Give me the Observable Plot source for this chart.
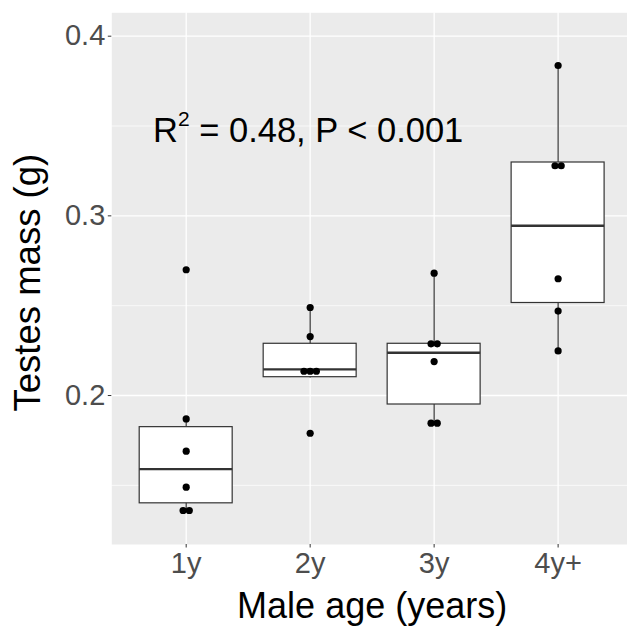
<!DOCTYPE html>
<html>
<head>
<meta charset="utf-8">
<script src="https://cdn.jsdelivr.net/npm/d3@7"></script>
<script src="https://cdn.jsdelivr.net/npm/@observablehq/plot@0.6"></script>
<style>
  html, body { margin: 0; padding: 0; background: #ffffff; }
  svg { display: block; }
</style>
</head>
<body>
<div id="chart"></div>
<script>
// ---- data ----
const ageLabels = ["1y", "2y", "3y", "4y+"];
// dot positions (binned dotplot values), per age class
const dots1y = [0.2700, 0.1870, 0.1690, 0.1490, 0.1360, 0.1360];
const dots2y = [0.2490, 0.2328, 0.2135, 0.2135, 0.2135, 0.1790];
const dots3y = [0.2681, 0.2288, 0.2288, 0.2189, 0.1846, 0.1846];
const dots4y = [0.3837, 0.3279, 0.3279, 0.2650, 0.2470, 0.2248];
// boxplot statistics, per age class
const whiskerLow  = [0.1360, 0.2098, 0.1846, 0.2248];
const lowerHinge  = [0.1400, 0.2102, 0.1950, 0.2515];
const medians     = [0.1590, 0.2145, 0.2238, 0.2945];
const upperHinge  = [0.1824, 0.2288, 0.2288, 0.3297];
const whiskerHigh = [0.1870, 0.2490, 0.2681, 0.3837];
// axes
const yTicks = [0.2, 0.3, 0.4];
const yMinor = [0.15, 0.25, 0.35];
const xTitle = "Male age (years)";
const yTitle = "Testes mass (g)";
const annotText = "R2 = 0.48, P < 0.001";
const annotX = 2;
const annotY = 0.35;

// ---- derived tables ----
const dotGroups = [dots1y, dots2y, dots3y, dots4y];
const points = [];
dotGroups.forEach((vals, i) => {
  const counts = d3.rollup(vals, v => v.length, v => v);
  const seen = new Map();
  vals.forEach(v => {
    const n = counts.get(v);
    const k = seen.get(v) || 0;
    seen.set(v, k + 1);
    points.push({age: ageLabels[i], pos: i + 1, slot: k - (n - 1) / 2, mass: v});
  });
});
const boxes = ageLabels.map((a, i) => ({
  age: a, pos: i + 1,
  lo: whiskerLow[i], q1: lowerHinge[i], med: medians[i], q3: upperHinge[i], hi: whiskerHigh[i]
}));
const halfBox = 0.375;   // ggplot box width 0.75
const dotStep = 0.05;    // stacking step for coincident dots

const font = "'Liberation Sans', Arial, Helvetica, sans-serif";
const grey = "#333333";

const svg = Plot.plot({
  width: 627,
  height: 626,
  marginLeft: 111.3,
  marginRight: 0,
  marginTop: 12.3,
  marginBottom: 82,
  style: {fontFamily: font, background: "#ffffff"},
  x: {type: "linear", domain: [0.4, 4.6], range: [111.3, 632]},
  y: {type: "linear", domain: [0.11708, 0.41302], range: [544, 12.3]},
  marks: [
    Plot.frame({fill: "#EBEBEB", stroke: null}),
    Plot.ruleY(yMinor, {stroke: "#ffffff", strokeWidth: 0.7}),
    Plot.ruleY(yTicks, {stroke: "#ffffff", strokeWidth: 1.3}),
    Plot.ruleX([1, 2, 3, 4], {stroke: "#ffffff", strokeWidth: 1.3}),
    Plot.ruleX(boxes, {x: "pos", y1: "lo", y2: "hi", stroke: grey, strokeWidth: 1.2}),
    Plot.rect(boxes, {x1: d => d.pos - halfBox, x2: d => d.pos + halfBox, y1: "q1", y2: "q3",
      fill: "#ffffff", stroke: grey, strokeWidth: 1.2}),
    Plot.ruleY(boxes, {y: "med", x1: d => d.pos - halfBox, x2: d => d.pos + halfBox,
      stroke: grey, strokeWidth: 2.3}),
    Plot.dot(points, {x: d => d.pos + d.slot * dotStep, y: "mass", r: 3.6, fill: "#000000", stroke: null}),
    Plot.text([annotText], {x: () => annotX, y: () => annotY, text: d => d,
      fontSize: 34.5, fill: "#000000", textAnchor: "middle", lineAnchor: "bottom", dy: 15.5, dx: -2}),
    Plot.axisY({ticks: yTicks, tickFormat: d3.format(".1f"), tickSize: 3.5, tickPadding: 3,
      fontSize: 29, stroke: grey, fill: "#4D4D4D", label: null}),
    Plot.axisX({ticks: [1, 2, 3, 4], tickFormat: d => ageLabels[d - 1], tickSize: 3.5, tickPadding: 4,
      fontSize: 29, stroke: grey, fill: "#4D4D4D", label: null}),
    Plot.text([xTitle], {frameAnchor: "bottom", text: d => d, lineAnchor: "bottom",
      dy: 73.5, dx: 2.5, fontSize: 36, fill: "#000000"}),
    Plot.text([yTitle], {frameAnchor: "left", text: d => d, lineAnchor: "bottom", rotate: -90,
      textAnchor: "middle", dx: -72, dy: 4, fontSize: 36.5, fill: "#000000"})
  ]
});

// superscript in the annotation (R^2)
svg.querySelectorAll("text").forEach(t => {
  if (t.textContent === annotText) {
    t.textContent = "";
    const ns = "http://www.w3.org/2000/svg";
    const a = document.createElementNS(ns, "tspan"); a.textContent = "R";
    const b = document.createElementNS(ns, "tspan"); b.textContent = "2";
    b.setAttribute("font-size", "21px"); b.setAttribute("dy", "-16");
    const c = document.createElementNS(ns, "tspan"); c.textContent = " = 0.48, P < 0.001";
    c.setAttribute("dy", "16");
    t.append(a, b, c);
  }
});

document.getElementById("chart").append(svg);
</script>
</body>
</html>
